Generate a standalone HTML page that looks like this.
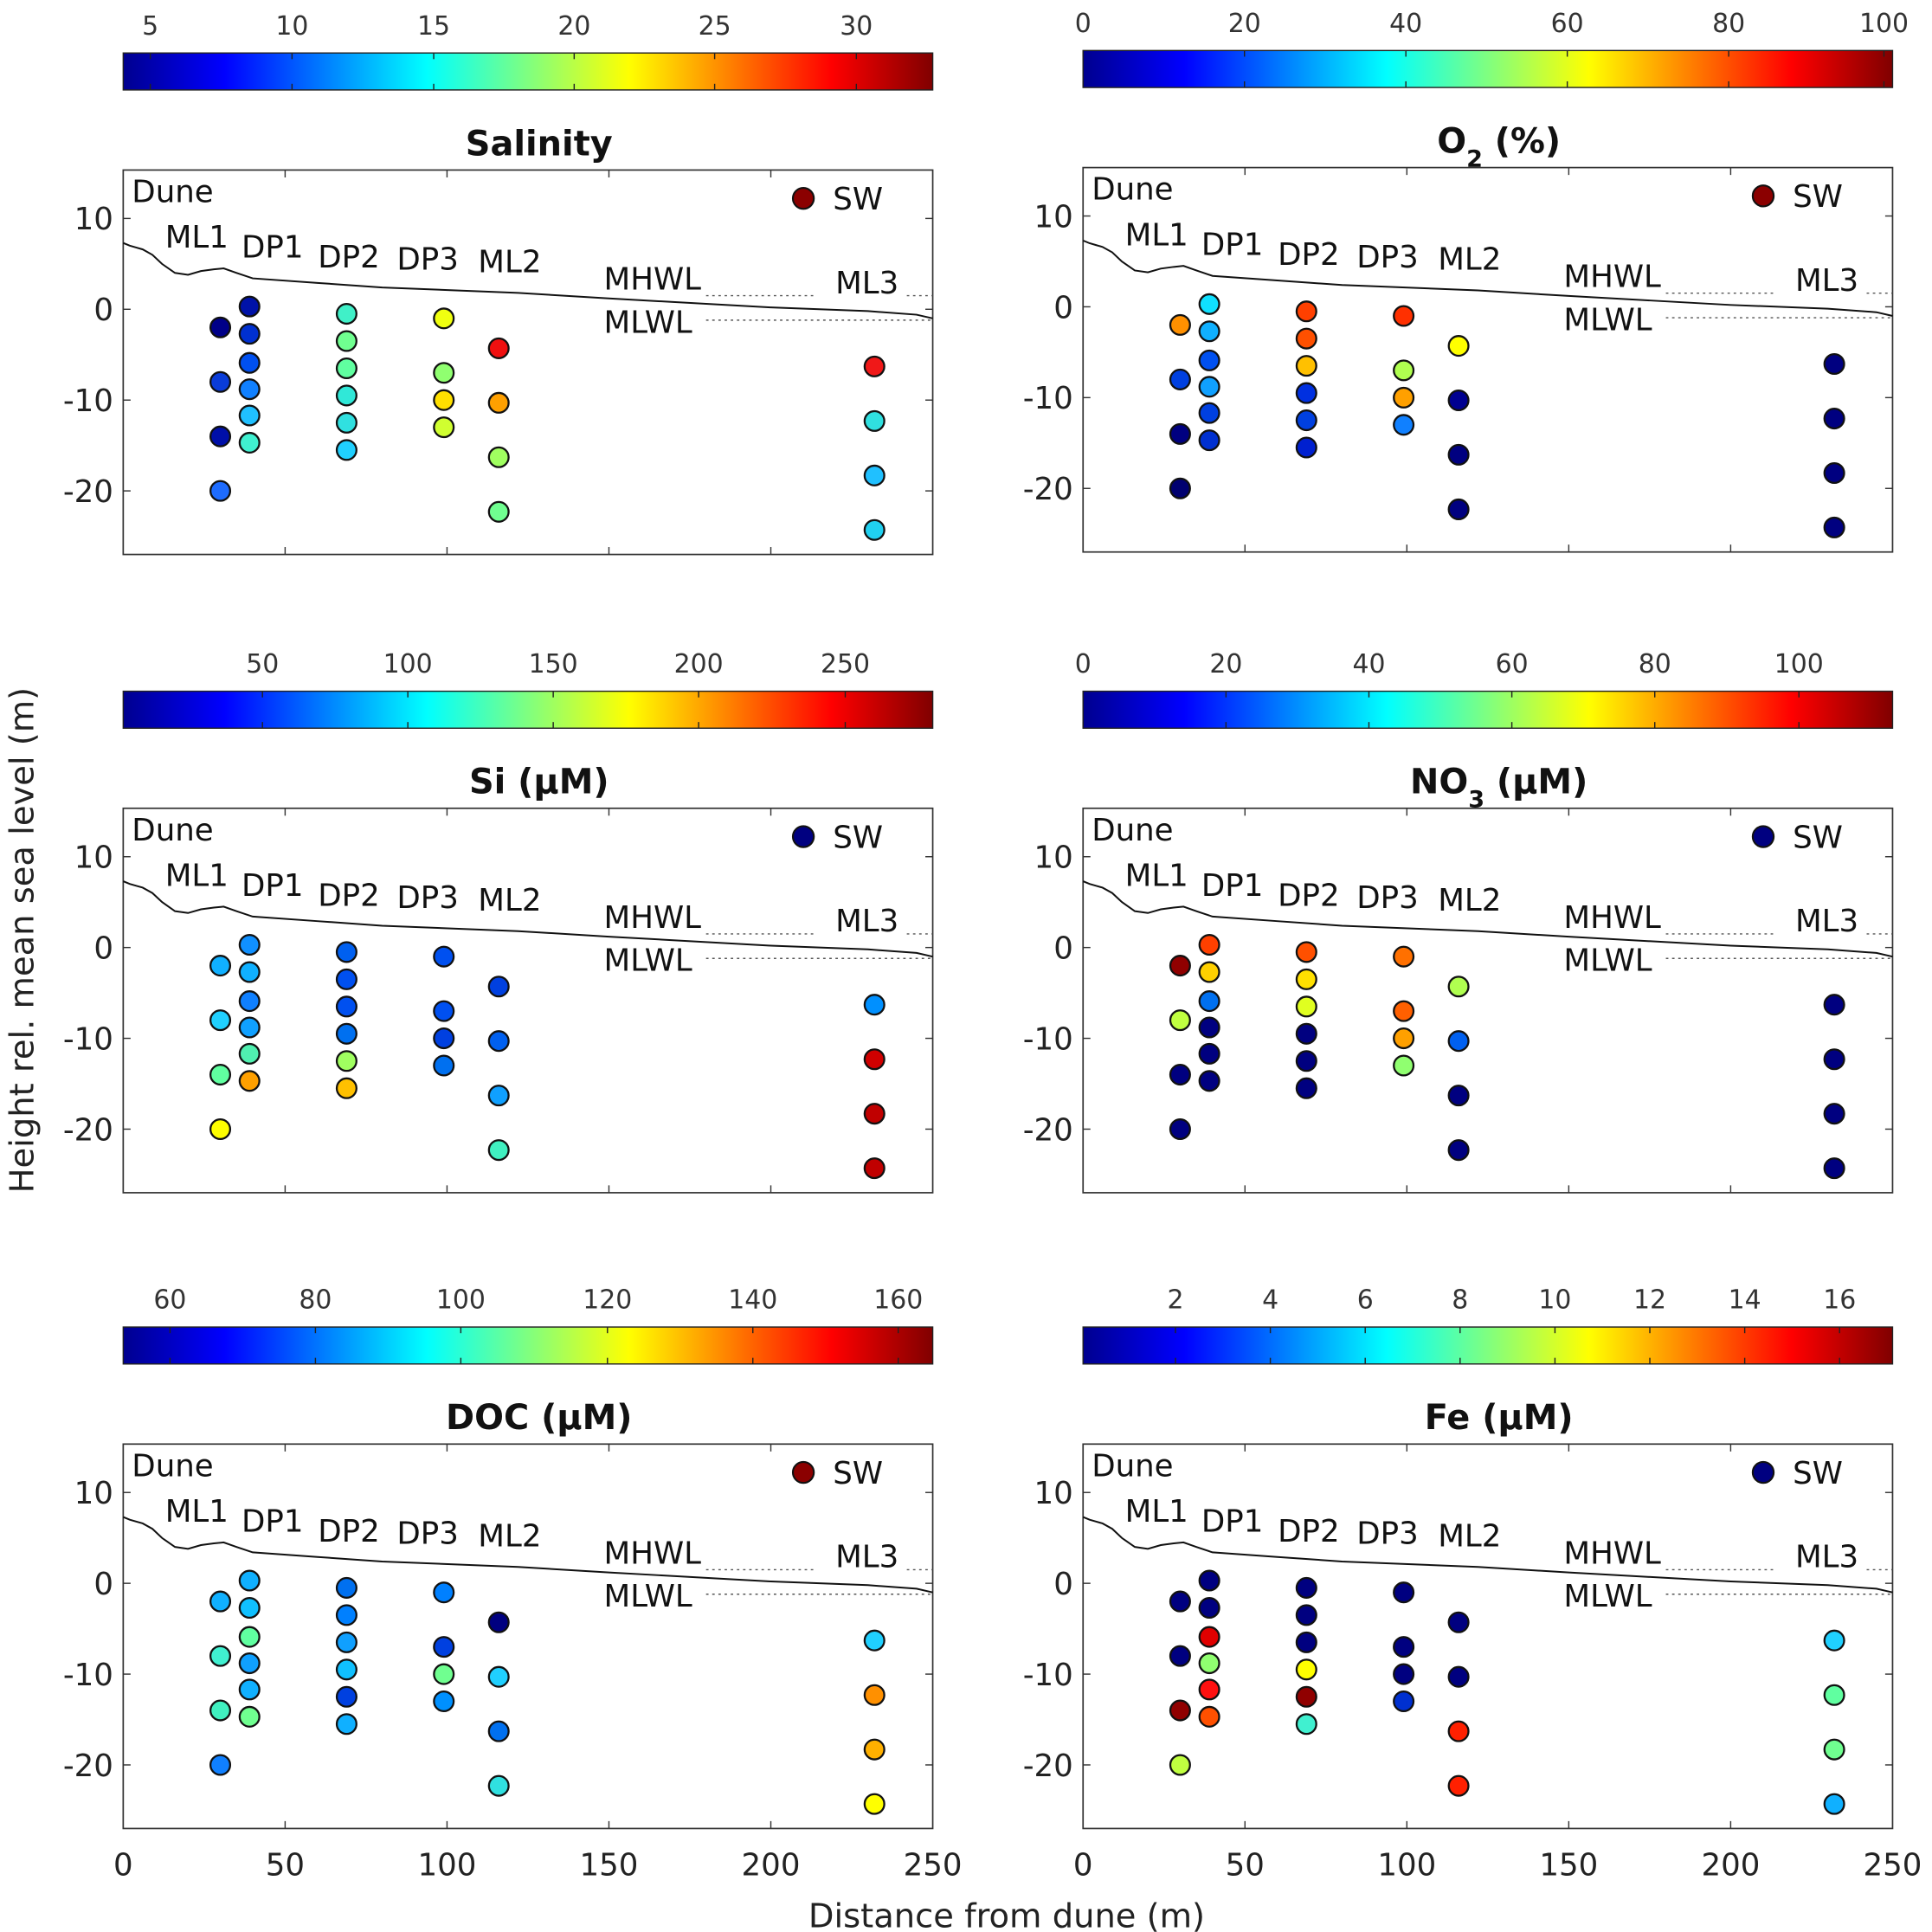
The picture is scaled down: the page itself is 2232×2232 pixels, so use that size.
<!DOCTYPE html>
<html><head><meta charset="utf-8"><style>html,body{margin:0;padding:0;background:#fff}svg{display:block}</style></head>
<body>
<svg id="s" xmlns="http://www.w3.org/2000/svg" width="2232" height="2232" viewBox="0 0 1568 1568" font-family="'DejaVu Sans','Liberation Sans',sans-serif">
<defs><linearGradient id="jet" x1="0" x2="1" y1="0" y2="0">
<stop offset="0" stop-color="#00008f"/><stop offset="0.125" stop-color="#0000ff"/><stop offset="0.375" stop-color="#00ffff"/><stop offset="0.625" stop-color="#ffff00"/><stop offset="0.875" stop-color="#ff0000"/><stop offset="1" stop-color="#800000"/></linearGradient></defs>
<text x="817" y="1564" font-size="27" text-anchor="middle" fill="#222">Distance from dune (m)</text>
<text transform="translate(27,763) rotate(-90)" font-size="27" text-anchor="middle" fill="#222">Height rel. mean sea level (m)</text>
</svg>
<script>
var S=document.getElementById('s'),h='';
var NV='#000080';
var X=[30,39,69,99,116,232];
var Y=[[-2,-8,-14,-20],[0.3,-2.7,-5.9,-8.8,-11.7,-14.7],[-0.5,-3.5,-6.5,-9.5,-12.5,-15.5],[-1,-7,-10,-13],[-4.3,-10.3,-16.3,-22.3],[-6.3,-12.3,-18.3,-24.3]];
var P=[
{ox:100,y0:251,title:'Salinity',ticks:[[5,122],[10,237],[15,352],[20,466],[25,580],[30,695]],sw:'#8b0000',c:[
['#000088','#0a3cd8','#000fa8','#1e6cff'],['#0012a8','#0030d0','#0050f0','#1080ff','#20c0ff','#40f0d0'],['#40f0c8','#70ff90','#60ffa0','#30e8d8','#30e0e0','#20d0ff'],['#f0ff10','#90ff70','#ffe000','#d0ff30'],['#f01010','#ffa000','#a0ff60','#70ff90'],['#f01818','#30e0e0','#20c0ff','#20d0f0']]},
{ox:879,y0:249,title:'O<tspan baseline-shift="sub" font-size="19">2</tspan> (%)',ticks:[[0,879],[20,1010],[40,1141],[60,1272],[80,1403],[100,1529]],sw:'#8b0000',c:[
['#ff9000','#0040e0',NV,'#000070'],['#10e0ff','#10b0ff','#0050f0','#10a0ff','#0040e0','#0030d0'],['#ff4000','#ff5000','#ffc000','#0030e0','#0040e0','#0020d0'],['#ff3000','#b0ff50','#ffa000','#1080ff'],['#ffff00','#000090',NV,NV],[NV,NV,NV,NV]]},
{ox:100,y0:769,title:'Si (µM)',ticks:[[50,213],[100,331],[150,449],[200,567],[250,686]],sw:NV,c:[
['#10b0ff','#20d0ff','#60ffa0','#ffff00'],['#1090ff','#10b0ff','#1080ff','#10a0ff','#50f0b0','#ffa000'],['#0060f0','#0050f0','#0050f0','#0070f0','#a0ff60','#ffc000'],['#0050f0','#0050f0','#0040e0','#0070f0'],['#0040e0','#0060f0','#10a0ff','#40f0c0'],['#0090ff','#d00000','#c00000','#c00000']]},
{ox:879,y0:769,title:'NO<tspan baseline-shift="sub" font-size="19">3</tspan> (µM)',ticks:[[0,879],[20,995],[40,1111],[60,1227],[80,1343],[100,1460]],sw:NV,c:[
['#900000','#c0ff40',NV,NV],['#ff4000','#ffd000','#0070f0',NV,NV,NV],['#ff5000','#ffe000','#e0ff20',NV,NV,NV],['#ff7000','#ff6000','#ffa000','#90ff70'],['#b0ff50','#0060f0',NV,NV],[NV,NV,NV,NV]]},
{ox:100,y0:1285,title:'DOC (µM)',ticks:[[60,138],[80,256],[100,374],[120,493],[140,611],[160,729]],sw:'#8b0000',c:[
['#10b0ff','#40f0d0','#40f0c0','#1080ff'],['#10b0ff','#10c0ff','#60ffa0','#10a0ff','#10b0ff','#70ff90'],['#0070f0','#0080ff','#10a0ff','#10c0ff','#0040e0','#10b0ff'],['#0080ff','#0040e0','#70ff90','#0090ff'],[NV,'#20d0ff','#0070f0','#30e0e0'],['#20d0ff','#ff9000','#ffb000','#ffff00']]},
{ox:879,y0:1285,title:'Fe (µM)',ticks:[[2,954],[4,1031],[6,1108],[8,1185],[10,1262],[12,1339],[14,1416],[16,1493]],sw:NV,c:[
[NV,NV,'#900000','#c0ff40'],[NV,NV,'#e00000','#90ff70','#ff1010','#ff5000'],[NV,NV,NV,'#ffff00','#900000','#40f0d0'],[NV,NV,NV,'#0030d0'],[NV,NV,'#ff2000','#ff2000'],['#20d0ff','#60ffa0','#70ff90','#10b0ff']]}
];
var prof=[[0,7.3],[2,7],[4,6.8],[6,6.6],[9,6],[12,5],[16,4],[20,3.8],[24,4.2],[28,4.4],[31,4.5],[35,4],[40,3.4],[60,2.9],[80,2.4],[122,1.8],[150,1.2],[200,0.2],[230,-0.2],[245,-0.6],[250,-1]];
var k=2.628,ky=7.37;
P.forEach(function(p,i){
 var ox=p.ox,y0=p.y0,top=y0-113,bot=y0+199,w=657;
 function sx(v){return ox+v*k}function sy(v){return y0-v*ky}
 var cb=top-95;
 h+='<rect x="'+ox+'" y="'+cb+'" width="'+w+'" height="30" fill="url(#jet)" stroke="#222" stroke-width="1"/>';
 p.ticks.forEach(function(t){h+='<text x="'+t[1]+'" y="'+(top-110)+'" font-size="21" text-anchor="middle" fill="#333">'+t[0]+'</text>';
  h+='<line x1="'+t[1]+'" x2="'+t[1]+'" y1="'+(cb+30)+'" y2="'+(cb+25)+'" stroke="#222"/><line x1="'+t[1]+'" x2="'+t[1]+'" y1="'+cb+'" y2="'+(cb+5)+'" stroke="#222"/>';});
 h+='<text x="'+(ox+w/2+9)+'" y="'+(top-12)+'" font-size="28" font-weight="bold" text-anchor="middle" fill="#111">'+p.title+'</text>';
 h+='<rect x="'+ox+'" y="'+top+'" width="'+w+'" height="'+(bot-top)+'" fill="none" stroke="#333" stroke-width="1.2"/>';
 [10,0,-10,-20].forEach(function(v){var y=sy(v);h+='<line x1="'+ox+'" x2="'+(ox+6)+'" y1="'+y+'" y2="'+y+'" stroke="#333"/><line x1="'+(ox+w)+'" x2="'+(ox+w-6)+'" y1="'+y+'" y2="'+y+'" stroke="#333"/>';
  h+='<text x="'+(ox-8)+'" y="'+(y+9)+'" font-size="25" text-anchor="end" fill="#222">'+(v<0?'-'+(-v):v)+'</text>';});
 [50,100,150,200].forEach(function(v){var x=sx(v);h+='<line x1="'+x+'" x2="'+x+'" y1="'+bot+'" y2="'+(bot-6)+'" stroke="#333"/><line x1="'+x+'" x2="'+x+'" y1="'+top+'" y2="'+(top+6)+'" stroke="#333"/>';});
 if(i>=4){[0,50,100,150,200,250].forEach(function(v){h+='<text x="'+sx(v)+'" y="'+(bot+38)+'" font-size="25" text-anchor="middle" fill="#222">'+v+'</text>';});}
 h+='<polyline fill="none" stroke="#111" stroke-width="1.4" points="'+prof.map(function(q){return sx(q[0]).toFixed(1)+','+sy(q[1]).toFixed(1)}).join(' ')+'"/>';
 h+='<line x1="'+sx(180)+'" x2="'+sx(214)+'" y1="'+sy(1.5)+'" y2="'+sy(1.5)+'" stroke="#555" stroke-dasharray="2,3"/>';
 h+='<line x1="'+sx(242)+'" x2="'+sx(250)+'" y1="'+sy(1.5)+'" y2="'+sy(1.5)+'" stroke="#555" stroke-dasharray="2,3"/>';
 h+='<line x1="'+sx(180)+'" x2="'+sx(250)+'" y1="'+sy(-1.2)+'" y2="'+sy(-1.2)+'" stroke="#555" stroke-dasharray="2,3"/>';
 var L=[['Dune',7,top+26],['ML1',34,y0-50],['DP1',96,y0-42],['DP2',158,y0-34],['DP3',222,y0-32],['ML2',288,y0-30],['MHWL',390,y0-16],['MLWL',390,y0+19],['ML3',578,y0-13]];
 L.forEach(function(l){h+='<text x="'+(ox+l[1])+'" y="'+l[2]+'" font-size="25" fill="#111">'+l[0]+'</text>';});
 h+='<circle cx="'+(ox+552)+'" cy="'+(top+23)+'" r="8.5" fill="'+p.sw+'" stroke="#111" stroke-width="1.5"/><text x="'+(ox+576)+'" y="'+(top+32)+'" font-size="25" fill="#111">SW</text>';
 X.forEach(function(xm,j){Y[j].forEach(function(ym,m){h+='<circle cx="'+sx(xm).toFixed(1)+'" cy="'+sy(ym).toFixed(1)+'" r="8" fill="'+p.c[j][m]+'" stroke="#111" stroke-width="1.6"/>';});});
});
S.insertAdjacentHTML('beforeend',h);
</script>
</body></html>
